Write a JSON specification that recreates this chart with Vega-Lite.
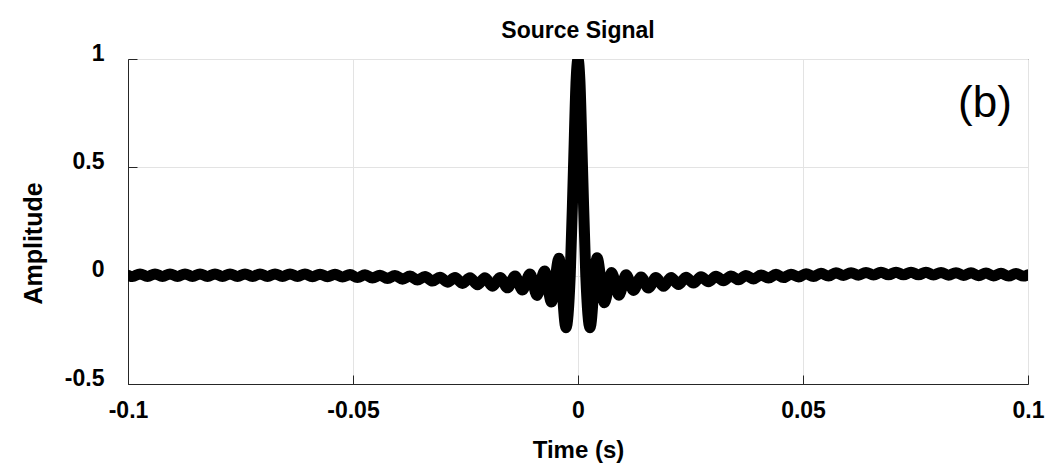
{
  "$schema": "https://vega.github.io/schema/vega-lite/v6.json",
  "width": 900,
  "height": 325,
  "autosize": {"type": "none"},
  "padding": {"left": 128, "top": 59, "right": 25, "bottom": 90},
  "background": "white",
  "config": {
    "font": "Liberation Sans",
    "view": {"stroke": "#262626", "strokeWidth": 1}
  },
  "title": {
    "text": "Source Signal",
    "fontSize": 23,
    "fontWeight": "bold",
    "font": "Liberation Sans",
    "color": "#000000",
    "anchor": "middle",
    "frame": "group",
    "offset": -1
  },
  "data": {
    "values": [
      {"t": -0.1, "v": 0.002},
      {"t": -0.099, "v": -0.004},
      {"t": -0.09733, "v": 0.008},
      {"t": -0.09567, "v": -0.004},
      {"t": -0.094, "v": 0.008},
      {"t": -0.09233, "v": -0.004},
      {"t": -0.09067, "v": 0.008},
      {"t": -0.089, "v": -0.004},
      {"t": -0.08733, "v": 0.008},
      {"t": -0.08567, "v": -0.004},
      {"t": -0.084, "v": 0.008},
      {"t": -0.08233, "v": -0.004},
      {"t": -0.08067, "v": 0.008},
      {"t": -0.079, "v": -0.004},
      {"t": -0.07733, "v": 0.008},
      {"t": -0.07567, "v": -0.004},
      {"t": -0.074, "v": 0.008},
      {"t": -0.07233, "v": -0.004},
      {"t": -0.07067, "v": 0.008},
      {"t": -0.069, "v": -0.004},
      {"t": -0.06733, "v": 0.008},
      {"t": -0.06567, "v": -0.004},
      {"t": -0.064, "v": 0.008},
      {"t": -0.06233, "v": -0.004},
      {"t": -0.06067, "v": 0.008},
      {"t": -0.059, "v": -0.005},
      {"t": -0.05733, "v": 0.007},
      {"t": -0.05567, "v": -0.005},
      {"t": -0.054, "v": 0.006},
      {"t": -0.05233, "v": -0.006},
      {"t": -0.05067, "v": 0.005},
      {"t": -0.049, "v": -0.009},
      {"t": -0.04733, "v": 0.004},
      {"t": -0.04567, "v": -0.011},
      {"t": -0.044, "v": 0.002},
      {"t": -0.04233, "v": -0.013},
      {"t": -0.04067, "v": 0.001},
      {"t": -0.039, "v": -0.016},
      {"t": -0.03733, "v": -0.002},
      {"t": -0.03567, "v": -0.02},
      {"t": -0.034, "v": -0.004},
      {"t": -0.03233, "v": -0.025},
      {"t": -0.03067, "v": -0.007},
      {"t": -0.029, "v": -0.03},
      {"t": -0.02733, "v": -0.009},
      {"t": -0.02567, "v": -0.036},
      {"t": -0.024, "v": -0.01},
      {"t": -0.02233, "v": -0.042},
      {"t": -0.02067, "v": -0.01},
      {"t": -0.019, "v": -0.049},
      {"t": -0.01733, "v": -0.008},
      {"t": -0.01567, "v": -0.056},
      {"t": -0.014, "v": -0.002},
      {"t": -0.01233, "v": -0.066},
      {"t": -0.01067, "v": 0.008},
      {"t": -0.00911, "v": -0.091},
      {"t": -0.00744, "v": 0.022},
      {"t": -0.00589, "v": -0.122},
      {"t": -0.00422, "v": 0.08},
      {"t": -0.00267, "v": -0.24},
      {"t": -0.00173, "v": 0.0},
      {"t": -0.001, "v": 0.5},
      {"t": -0.0004, "v": 0.91},
      {"t": 0.0, "v": 1.0},
      {"t": 0.0004, "v": 0.91},
      {"t": 0.001, "v": 0.5},
      {"t": 0.00173, "v": 0.0},
      {"t": 0.00267, "v": -0.24},
      {"t": 0.00422, "v": 0.083},
      {"t": 0.00589, "v": -0.125},
      {"t": 0.00744, "v": 0.015},
      {"t": 0.00911, "v": -0.09},
      {"t": 0.01067, "v": 0.004},
      {"t": 0.01233, "v": -0.068},
      {"t": 0.014, "v": -0.006},
      {"t": 0.01567, "v": -0.057},
      {"t": 0.01733, "v": -0.009},
      {"t": 0.019, "v": -0.049},
      {"t": 0.02067, "v": -0.009},
      {"t": 0.02233, "v": -0.041},
      {"t": 0.024, "v": -0.007},
      {"t": 0.02567, "v": -0.034},
      {"t": 0.02733, "v": -0.005},
      {"t": 0.029, "v": -0.028},
      {"t": 0.03067, "v": -0.003},
      {"t": 0.03233, "v": -0.023},
      {"t": 0.034, "v": -0.001},
      {"t": 0.03567, "v": -0.019},
      {"t": 0.03733, "v": 0.001},
      {"t": 0.039, "v": -0.015},
      {"t": 0.04067, "v": 0.003},
      {"t": 0.04233, "v": -0.011},
      {"t": 0.044, "v": 0.006},
      {"t": 0.04567, "v": -0.009},
      {"t": 0.04733, "v": 0.007},
      {"t": 0.049, "v": -0.006},
      {"t": 0.05067, "v": 0.009},
      {"t": 0.05233, "v": -0.004},
      {"t": 0.054, "v": 0.011},
      {"t": 0.05567, "v": -0.002},
      {"t": 0.05733, "v": 0.013},
      {"t": 0.059, "v": 0.001},
      {"t": 0.06067, "v": 0.014},
      {"t": 0.06233, "v": 0.002},
      {"t": 0.064, "v": 0.015},
      {"t": 0.06567, "v": 0.003},
      {"t": 0.06733, "v": 0.016},
      {"t": 0.069, "v": 0.004},
      {"t": 0.07067, "v": 0.016},
      {"t": 0.07233, "v": 0.004},
      {"t": 0.074, "v": 0.016},
      {"t": 0.07567, "v": 0.004},
      {"t": 0.07733, "v": 0.016},
      {"t": 0.079, "v": 0.003},
      {"t": 0.08067, "v": 0.015},
      {"t": 0.08233, "v": 0.002},
      {"t": 0.084, "v": 0.014},
      {"t": 0.08567, "v": 0.001},
      {"t": 0.08733, "v": 0.013},
      {"t": 0.089, "v": 0.0},
      {"t": 0.09067, "v": 0.012},
      {"t": 0.09233, "v": -0.001},
      {"t": 0.094, "v": 0.011},
      {"t": 0.09567, "v": -0.002},
      {"t": 0.09733, "v": 0.01},
      {"t": 0.099, "v": -0.002},
      {"t": 0.1, "v": 0.004}
    ]
  },
  "layer": [
    {
      "mark": {
        "type": "line",
        "color": "#000000",
        "strokeWidth": 11,
        "interpolate": "monotone",
        "clip": true,
        "strokeCap": "round",
        "strokeJoin": "round"
      },
      "encoding": {
        "x": {
          "field": "t",
          "type": "quantitative",
          "scale": {"domain": [-0.1, 0.1], "nice": false, "zero": false},
          "axis": {
            "values": [-0.1, -0.05, 0, 0.05, 0.1],
            "labelExpr": "toString(datum.value)",
            "title": "Time (s)",
            "titleFontSize": 24,
            "titleFontWeight": "bold",
            "titleColor": "#000000",
            "titleBaseline": "middle",
            "titleY": 66,
            "labelFontSize": 23,
            "labelFontWeight": "bold",
            "labelColor": "#000000",
            "labelPadding": 24,
            "labelFlush": false,
            "labelOverlap": false,
            "tickSize": -9,
            "tickColor": "#262626",
            "domainColor": "#262626",
            "gridColor": "#e3e3e3"
          }
        },
        "y": {
          "field": "v",
          "type": "quantitative",
          "scale": {"domain": [-0.5, 1], "nice": false, "zero": false},
          "axis": {
            "values": [-0.5, 0, 0.5, 1],
            "labelExpr": "toString(datum.value)",
            "title": "Amplitude",
            "titleFontSize": 25,
            "titleFontWeight": "bold",
            "titleColor": "#000000",
            "titleBaseline": "middle",
            "titleAlign": "center",
            "titleAngle": -90,
            "titleX": -95,
            "titleY": 184,
            "labelFontSize": 23,
            "labelFontWeight": "bold",
            "labelColor": "#000000",
            "labelPadding": 33,
            "labelOffset": -6,
            "labelBaseline": "middle",
            "labelFlush": false,
            "labelOverlap": false,
            "tickSize": -9,
            "tickColor": "#262626",
            "domainColor": "#262626",
            "gridColor": "#e3e3e3"
          }
        }
      }
    },
    {
      "data": {"values": [{"label": "(b)"}]},
      "mark": {
        "type": "text",
        "fontSize": 44,
        "font": "Liberation Sans",
        "align": "right",
        "baseline": "alphabetic",
        "color": "#000000"
      },
      "encoding": {
        "text": {"field": "label"},
        "x": {"datum": 0.0964},
        "y": {"datum": 0.732}
      }
    }
  ]
}
